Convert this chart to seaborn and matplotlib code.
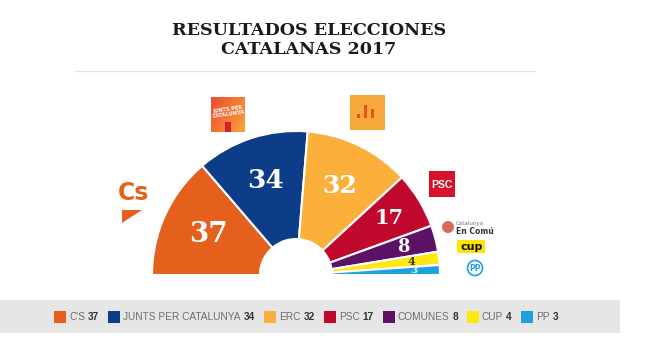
import matplotlib
matplotlib.use('Agg')
import matplotlib.pyplot as plt
import seaborn as sns
import numpy as np
from matplotlib.patches import Rectangle, Polygon, Circle

# datos
parties = ["C'S", 'JUNTS PER CATALUNYA', 'ERC', 'PSC', 'COMUNES', 'CUP', 'PP']
seats = [37, 34, 32, 17, 8, 4, 3]
colors = ['#E5601C', '#0D3C88', '#FBB03B', '#C1092D', '#5E1266', '#FFE70F', '#1DA1DE']
title = 'RESULTADOS ELECCIONES\nCATALANAS 2017'

sns.set_theme(style='white')
plt.rcParams['font.family'] = ['DejaVu Sans']
pal = sns.color_palette(colors)
NARROW = ['Liberation Sans', 'DejaVu Sans']

W, H = 645, 350
fig = plt.figure(figsize=(W / 100, H / 100), dpi=100)
fig.patch.set_facecolor('white')
bg = fig.add_axes([0, 0, 1, 1])
bg.set_xlim(0, W)
bg.set_ylim(H, 0)
bg.axis('off')

# titulo
bg.text(309, 40, title, ha='center', va='center', fontsize=12.6, fontweight='bold',
        family='DejaVu Serif', color='#1a1a1a', linespacing=1.15)
bg.plot([75, 535], [71, 71], color='#e3e3e3', lw=1)

# hemiciclo
cx, cy, R, r_in = 296, 275, 144, 36
x0, x1, y0, y1 = -1.5, 1.5, -0.15, 1.15
ax = fig.add_axes([(cx + x0 * R) / W, (H - cy + y0 * R) / H,
                   (x1 - x0) * R / W, (y1 - y0) * R / H])
total = sum(seats)
wedges, _ = ax.pie(seats + [total], colors=list(pal) + ['white'], startangle=180,
                   counterclock=False, radius=1,
                   wedgeprops=dict(width=1 - r_in / R, edgecolor='white', linewidth=1.5))
wedges[-1].set_visible(False)
ax.set_xlim(x0, x1)
ax.set_ylim(y0, y1)
ax.set_aspect('equal')
ax.axis('off')

lab_r = [0.67, 0.69, 0.69, 0.76, 0.77, 0.81, 0.82]
lab_size = [20, 19, 18, 15, 13, 8, 7.5]
lab_col = ['white'] * 5 + ['#3a3a10', '#e8f6ff']
for w, n, rr, fs, c in zip(wedges, seats, lab_r, lab_size, lab_col):
    ang = np.deg2rad((w.theta1 + w.theta2) / 2)
    ax.text(rr * np.cos(ang), rr * np.sin(ang), str(n), ha='center', va='center',
            fontsize=fs, fontweight='bold', family='DejaVu Serif', color=c)

# logos
bg.text(134, 193, 'Cs', ha='center', va='center', fontsize=17, fontweight='bold',
        color=colors[0])
bg.add_patch(Polygon([(122, 210), (142, 210), (122, 223)], closed=True, color=colors[0], lw=0))

grad = np.linspace(0, 1, 40)[None, :] * np.ones((40, 1)) + np.linspace(0, 1, 40)[:, None] * 0.6
bg.imshow(grad, extent=(211, 245, 132, 97),
          cmap=sns.blend_palette(['#EE4B30', '#F9A33C'], as_cmap=True),
          aspect='auto', zorder=2)
bg.add_patch(Rectangle((225, 122), 6, 10, color='#D3202A', lw=0, zorder=3))
bg.text(228, 112, 'JUNTS PER\nCATALUNYA', ha='center', va='center', fontsize=3.6,
        fontweight='bold', color='white', rotation=8, linespacing=1.0, zorder=4)

bg.add_patch(Rectangle((350, 95), 35, 35, color='#F7A93B', lw=0))
for bx, bt, bw in [(357, 114, 2.5), (363.5, 105, 3), (371, 109, 3)]:
    bg.add_patch(Rectangle((bx, bt), bw, 118 - bt, color='#E9501E', lw=0))

bg.add_patch(Rectangle((429, 171), 26, 26, color='#D8122B', lw=0))
bg.text(442, 185, 'PSC', ha='center', va='center', fontsize=7.5, color='white',
        family=NARROW, fontweight='bold')

bg.add_patch(Circle((448, 227), 6, color='#D96A5E', lw=0))
bg.text(456, 223, 'Catalunya', ha='left', va='center', fontsize=4, color='#777777')
bg.text(456, 231, 'En Comú', ha='left', va='center', fontsize=5.5, color='#333333',
        fontweight='bold')

bg.add_patch(Rectangle((457, 240), 28, 13, color='#FFE500', lw=0))
bg.text(472, 246.5, 'cup', ha='center', va='center', fontsize=8, fontweight='bold',
        color='#111111')

bg.add_patch(Circle((475, 268), 7.5, facecolor='white', edgecolor='#1DA1DE', lw=1.2))
bg.text(475, 268.5, 'PP', ha='center', va='center', fontsize=5.5, color='#1DA1DE',
        fontweight='bold')

# leyenda
bg.add_patch(Rectangle((0, 300), 620, 33, color='#E6E6E6', lw=0, zorder=0))
fig.canvas.draw()
renderer = fig.canvas.get_renderer()
x = 54
ly = 316.5
for name, n, c in zip(parties, seats, pal):
    bg.add_patch(Rectangle((x, ly - 6), 12, 12, color=c, lw=0))
    x += 15
    t = bg.text(x, ly, name, ha='left', va='center', fontsize=7.3, color='#6e6e6e',
                family=NARROW, stretch='condensed')
    x = t.get_window_extent(renderer).x1 + 3
    t2 = bg.text(x, ly, str(n), ha='left', va='center', fontsize=7.3, color='#333333',
                 family=NARROW, fontweight='bold')
    x = t2.get_window_extent(renderer).x1 + 9

fig.savefig('out.png', dpi=100, facecolor='white')
